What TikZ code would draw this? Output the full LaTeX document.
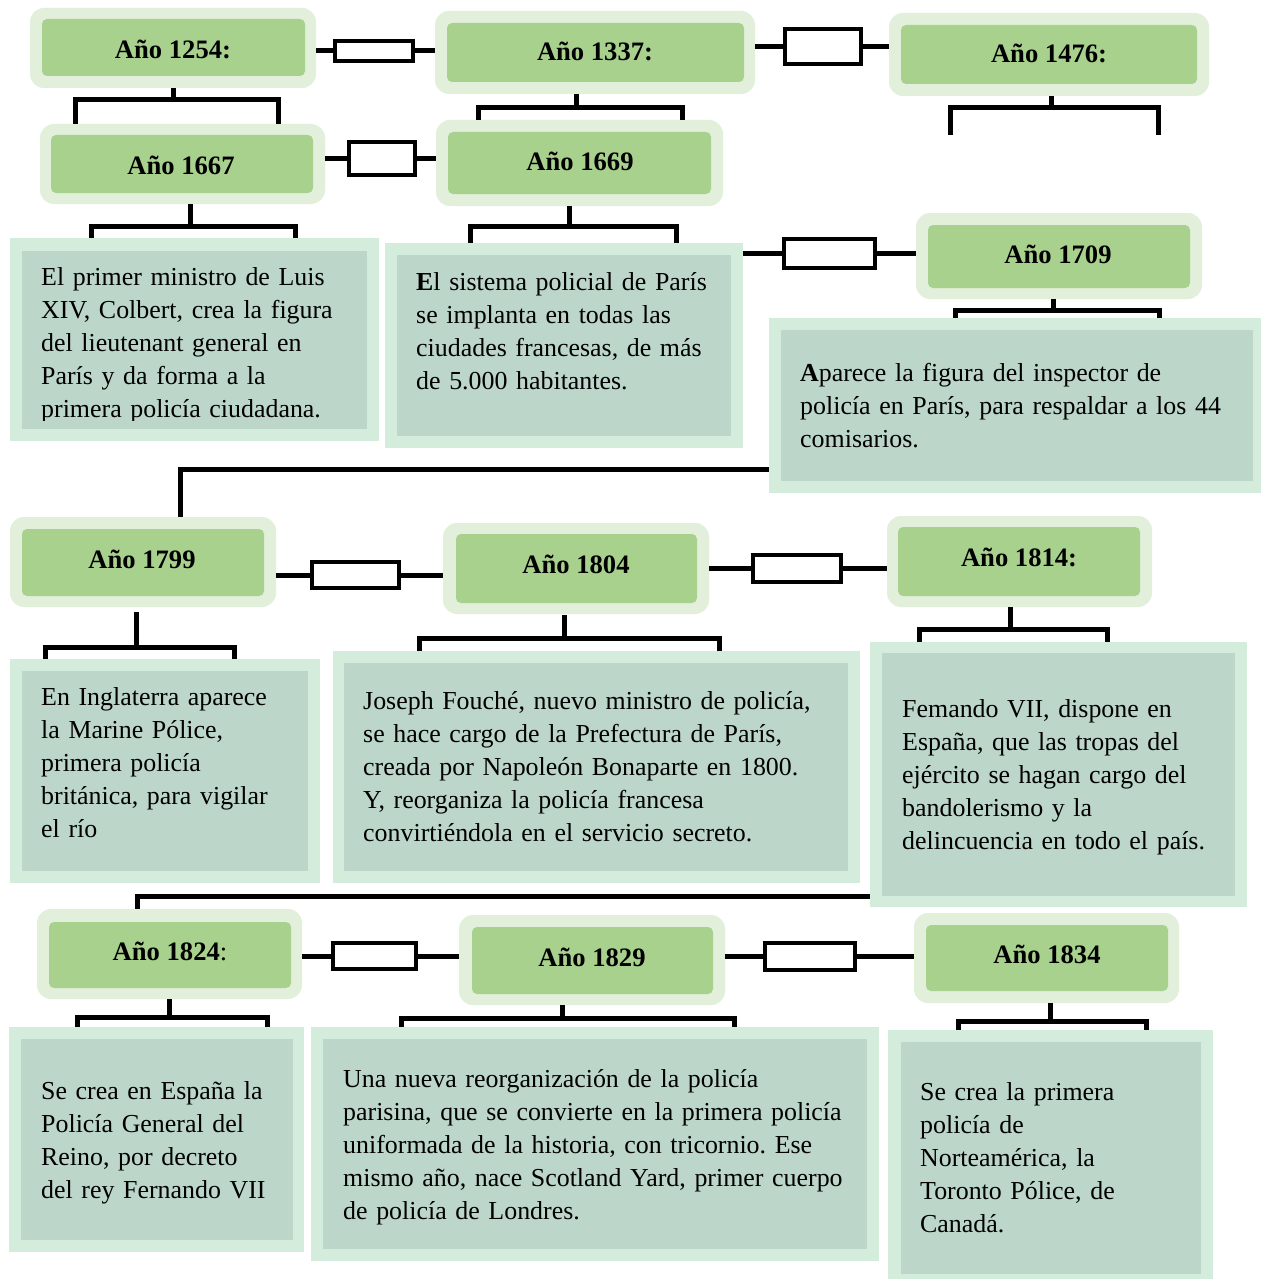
\documentclass[tikz,border=0pt]{standalone}
\usepackage{fontspec}
\setmainfont{Liberation Serif}
\usetikzlibrary{fit}
\definecolor{yout}{HTML}{E2EFDA}
\definecolor{yin}{HTML}{A9D18E}
\definecolor{tout}{HTML}{D4ECDC}
\definecolor{tin}{HTML}{BCD6CA}
\frenchspacing
\begin{document}
\begin{tikzpicture}[x=1pt,y=-1pt,
  yearout/.style={fill=yout, rounded corners=14pt, inner sep=0pt, draw=none},
  yearin/.style={fill=yin, rounded corners=5pt, inner sep=0pt, draw=none},
  yeartxt/.style={font=\fontsize{26.6}{33}\selectfont\bfseries, anchor=base, inner sep=0pt},
  txtout/.style={fill=tout, inner sep=0pt, draw=none},
  txtin/.style={fill=tin, inner sep=0pt, draw=none},
  bodytxt/.style={font=\fontsize{25.9}{33}\selectfont\frenchspacing, anchor=base west, align=left, text width=600pt, inner sep=0pt},
  link/.style={line width=5pt},
  linkbox/.style={draw=black, line width=4.5pt, fill=white, inner sep=0pt},
  bracket/.style={line width=5pt},
]
\useasboundingbox (0,0) rectangle (1261,1279);
\fill[white] (0,0) rectangle (1261,1279);

% ---------- year boxes ----------
\node[yearout, fit={(30,8) (316,88)}] (y1254) {};
\node[yearin, fit={(42,19) (305,76)}] (y1254i) {};
\node[yeartxt] (y1254t) at (173,59) {Año 1254:};

\node[yearout, fit={(435,11) (755,94)}] (y1337) {};
\node[yearin, fit={(447,23) (744,82)}] (y1337i) {};
\node[yeartxt] (y1337t) at (595,61) {Año 1337:};

\node[yearout, fit={(889,13) (1209,96)}] (y1476) {};
\node[yearin, fit={(901,25) (1197,84)}] (y1476i) {};
\node[yeartxt] (y1476t) at (1049,63) {Año 1476:};

\node[yearout, fit={(40,124) (325,204)}] (y1667) {};
\node[yearin, fit={(51,135) (313,193)}] (y1667i) {};
\node[yeartxt] (y1667t) at (181,174) {Año 1667};

\node[yearout, fit={(436,120) (723,206)}] (y1669) {};
\node[yearin, fit={(448,132) (711,194)}] (y1669i) {};
\node[yeartxt] (y1669t) at (580,170) {Año 1669};

\node[yearout, fit={(916,213) (1202,299)}] (y1709) {};
\node[yearin, fit={(928,225) (1190,288)}] (y1709i) {};
\node[yeartxt] (y1709t) at (1058,263) {Año 1709};

\node[yearout, fit={(10,517) (276,607)}] (y1799) {};
\node[yearin, fit={(22,529) (264,596)}] (y1799i) {};
\node[yeartxt] (y1799t) at (142,568) {Año 1799};

\node[yearout, fit={(443,523) (709,614)}] (y1804) {};
\node[yearin, fit={(456,534) (697,603)}] (y1804i) {};
\node[yeartxt] (y1804t) at (576,573) {Año 1804};

\node[yearout, fit={(887,516) (1152,607)}] (y1814) {};
\node[yearin, fit={(898,527) (1140,596)}] (y1814i) {};
\node[yeartxt] (y1814t) at (1019,566) {Año 1814:};

\node[yearout, fit={(37,909) (302,999)}] (y1824) {};
\node[yearin, fit={(49,922) (291,988)}] (y1824i) {};
\node[yeartxt] (y1824t) at (170,960) {Año 1824\mdseries:};

\node[yearout, fit={(459,915) (725,1005)}] (y1829) {};
\node[yearin, fit={(472,927) (713,994)}] (y1829i) {};
\node[yeartxt] (y1829t) at (592,966) {Año 1829};

\node[yearout, fit={(914,913) (1179,1003)}] (y1834) {};
\node[yearin, fit={(926,925) (1168,991)}] (y1834i) {};
\node[yeartxt] (y1834t) at (1047,963) {Año 1834};

% ---------- text boxes ----------
\node[txtout, fit={(10,238) (379,441)}] (t1667) {};
\node[txtin, fit={(22,251) (367,429)}] (t1667i) {};
\begin{scope}
\clip (22,251) rectangle (367,420);
\node[bodytxt] (t1667t) at (41,285) {El primer ministro de Luis\\XIV, Colbert, crea la figura\\del lieutenant general en\\París y da forma a la\\primera policía ciudadana.};
\end{scope}

\node[txtout, fit={(385,243) (743,448)}] (t1669) {};
\node[txtin, fit={(397,255) (731,436)}] (t1669i) {};
\node[bodytxt] (t1669t) at (416,290.5) {\textbf{E}l sistema policial de París\\se implanta en todas las\\ciudades francesas, de más\\de 5.000 habitantes.};

\node[txtout, fit={(769,318) (1261,493)}] (t1709) {};
\node[txtin, fit={(781,330) (1253,481)}] (t1709i) {};
\node[bodytxt] (t1709t) at (800,381) {\textbf{A}parece la figura del inspector de\\policía en París, para respaldar a los 44\\comisarios.};

\node[txtout, fit={(10,659) (320,883)}] (t1799) {};
\node[txtin, fit={(22,671) (308,871)}] (t1799i) {};
\node[bodytxt] (t1799t) at (41,705) {En Inglaterra aparece\\la Marine Pólice,\\primera policía\\británica, para vigilar\\el río};

\node[txtout, fit={(333,651) (860,883)}] (t1804) {};
\node[txtin, fit={(344,663) (848,871)}] (t1804i) {};
\node[bodytxt] (t1804t) at (363,709) {Joseph Fouché, nuevo ministro de policía,\\se hace cargo de la Prefectura de París,\\creada por Napoleón Bonaparte en 1800.\\Y, reorganiza la policía francesa\\convirtiéndola en el servicio secreto.};

\node[txtout, fit={(870,642) (1247,907)}] (t1814) {};
\node[txtin, fit={(882,653) (1235,896)}] (t1814i) {};
\node[bodytxt] (t1814t) at (902,717) {Femando VII, dispone en\\España, que las tropas del\\ejército se hagan cargo del\\bandolerismo y la\\delincuencia en todo el país.};

\node[txtout, fit={(9,1027) (304,1252)}] (t1824) {};
\node[txtin, fit={(21,1039) (293,1240)}] (t1824i) {};
\node[bodytxt] (t1824t) at (41,1099) {Se crea en España la\\Policía General del\\Reino, por decreto\\del rey Fernando VII};

\node[txtout, fit={(311,1027) (879,1261)}] (t1829) {};
\node[txtin, fit={(323,1039) (867,1249)}] (t1829i) {};
\node[bodytxt] (t1829t) at (343,1087) {Una nueva reorganización de la policía\\parisina, que se convierte en la primera policía\\uniformada de la historia, con tricornio. Ese\\mismo año, nace Scotland Yard, primer cuerpo\\de policía de Londres.};

\node[txtout, fit={(888,1030) (1213,1279)}] (t1834) {};
\node[txtin, fit={(901,1042) (1201,1274)}] (t1834i) {};
\node[bodytxt] (t1834t) at (920,1100) {Se crea la primera\\policía de\\Norteamérica, la\\Toronto Pólice, de\\Canadá.};

% ---------- horizontal links with small boxes ----------
\node[linkbox, fit={(335,41) (413,61)}] (r1) {};
\draw[link] (y1254.east |- r1) -- (r1.west);
\draw[link] (r1.east) -- (r1.east -| y1337.west);

\node[linkbox, fit={(785,29) (861,64)}] (r2) {};
\draw[link] (y1337.east |- r2) -- (r2.west);
\draw[link] (r2.east) -- (r2.east -| y1476.west);

\node[linkbox, fit={(349,142) (415,175)}] (r3) {};
\draw[link] (y1667.east |- r3) -- (r3.west);
\draw[link] (r3.east) -- (r3.east -| y1669.west);

\node[linkbox, fit={(784,239) (875,268)}] (r4) {};
\draw[link] (t1669.east |- r4) -- (r4.west);
\draw[link] (r4.east) -- (r4.east -| y1709.west);

\node[linkbox, fit={(312,562) (399,588)}] (r5) {};
\draw[link] (y1799.east |- r5) -- (r5.west);
\draw[link] (r5.east) -- (r5.east -| y1804.west);

\node[linkbox, fit={(753,555) (841,582)}] (r6) {};
\draw[link] (y1804.east |- r6) -- (r6.west);
\draw[link] (r6.east) -- (r6.east -| y1814.west);

\node[linkbox, fit={(333,943) (416,969)}] (r7) {};
\draw[link] (y1824.east |- r7) -- (r7.west);
\draw[link] (r7.east) -- (r7.east -| y1829.west);

\node[linkbox, fit={(765,943) (855,970)}] (r8) {};
\draw[link] (y1829.east |- r8) -- (r8.west);
\draw[link] (r8.east) -- (r8.east -| y1834.west);

% ---------- brackets ----------
\draw[bracket] (173,0 |- y1254.south) -- (173,100);
\draw[bracket] (75,0 |- y1667.north) -- (75,100) -- (278,100) -- (278,0 |- y1667.north);

\draw[bracket] (576,0 |- y1337.south) -- (576,107.5);
\draw[bracket] (478,0 |- y1669.north) -- (478,107.5) -- (682,107.5) -- (682,0 |- y1669.north);

\coordinate (b1476l) at (950,135);
\coordinate (b1476r) at (1158,135);
\draw[bracket] (1051,0 |- y1476.south) -- (1051,107.5);
\draw[bracket] (b1476l) -- (950,107.5) -- (1158,107.5) -- (b1476r);

\draw[bracket] (190,0 |- y1667.south) -- (190,226);
\draw[bracket] (91,0 |- t1667.north) -- (91,226) -- (295,226) -- (295,0 |- t1667.north);

\draw[bracket] (569,0 |- y1669.south) -- (569,226.5);
\draw[bracket] (470,0 |- t1669.north) -- (470,226.5) -- (676,226.5) -- (676,0 |- t1669.north);

\draw[bracket] (1053,0 |- y1709.south) -- (1053,310);
\draw[bracket] (955,0 |- t1709.north) -- (955,310) -- (1159,310) -- (1159,0 |- t1709.north);

\draw[bracket] (136,612) -- (136,647);
\draw[bracket] (45,0 |- t1799.north) -- (45,647) -- (234,647) -- (234,0 |- t1799.north);

\draw[bracket] (564,615) -- (564,638);
\draw[bracket] (419,0 |- t1804.north) -- (419,638) -- (719,638) -- (719,0 |- t1804.north);

\draw[bracket] (1010,0 |- y1814.south) -- (1010,629);
\draw[bracket] (919,0 |- t1814.north) -- (919,629) -- (1107,629) -- (1107,0 |- t1814.north);

\draw[bracket] (169,0 |- y1824.south) -- (169,1017);
\draw[bracket] (77,0 |- t1824.north) -- (77,1017) -- (267,1017) -- (267,0 |- t1824.north);

\draw[bracket] (562,0 |- y1829.south) -- (562,1018);
\draw[bracket] (401,0 |- t1829.north) -- (401,1018) -- (734,1018) -- (734,0 |- t1829.north);

\draw[bracket] (1050,0 |- y1834.south) -- (1050,1021);
\draw[bracket] (958,0 |- t1834.north) -- (958,1021) -- (1146,1021) -- (1146,0 |- t1834.north);

% ---------- long connectors ----------
\draw[link] (t1709.west |- 0,469) -- (180,469) -- (180,0 |- y1799.north);
\draw[link] (t1814.west |- 0,896) -- (137,896) -- (137,0 |- y1824.north);
\end{tikzpicture}
\end{document}
